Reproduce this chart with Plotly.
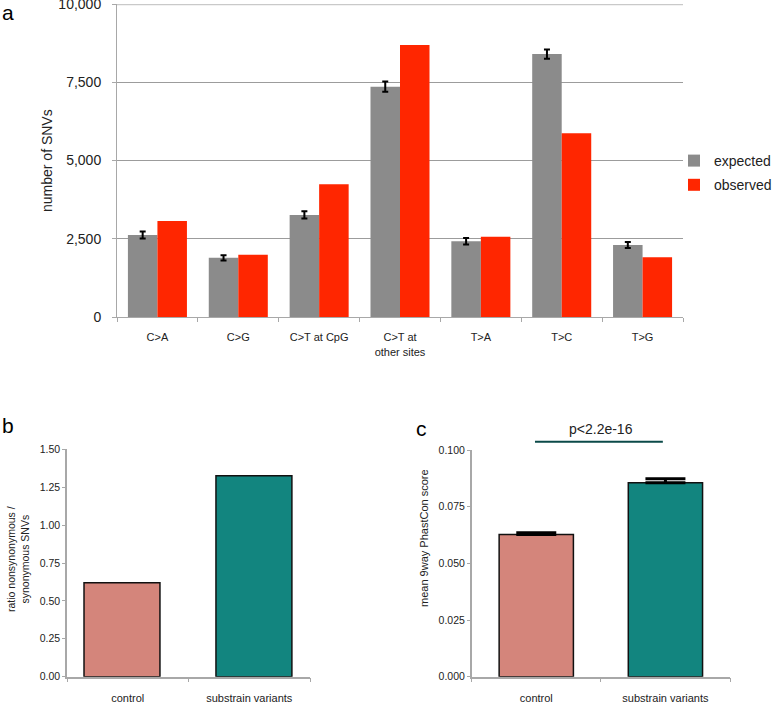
import plotly.graph_objects as go

# ---------------- data ----------------
mut_categories = ["C>A", "C>G", "C>T at CpG", "C>T at<br>other sites", "T>A", "T>C", "T>G"]
expected_snvs = [2620, 1890, 3260, 7360, 2420, 8400, 2300]
expected_err = [110, 85, 115, 160, 100, 150, 95]
observed_snvs = [3070, 1990, 4240, 8690, 2565, 5870, 1910]

group_labels = ["control", "substrain variants"]
ratio_nonsyn_syn = [0.62, 1.325]
phastcon_mean = [0.0627, 0.0855]
phastcon_err = [0.0008, 0.0018]
p_label = "p<2.2e-16"

# ---------------- style ----------------
FONT = "Liberation Sans, Arial, Helvetica, sans-serif"
GRAY = "#8b8b8b"
RED = "#ff2600"
SALMON = "#d4857b"
TEAL = "#12857f"
AXIS = "#a8a8a8"
TXT = "#222222"
W, H = 773, 702


def px_x(p):
    return p / W


def px_y(p):
    return 1 - p / H


fig = go.Figure()

# panel a
fig.add_trace(go.Bar(
    x=mut_categories, y=expected_snvs, name="expected",
    marker=dict(color=GRAY, line=dict(width=0)),
    error_y=dict(type="data", array=expected_err, color="black", thickness=2, width=3),
    xaxis="x", yaxis="y", legendgroup="e"))
fig.add_trace(go.Bar(
    x=mut_categories, y=observed_snvs, name="observed",
    marker=dict(color=RED, line=dict(width=0)),
    xaxis="x", yaxis="y", legendgroup="o"))

# panel b
fig.add_trace(go.Bar(
    x=group_labels, y=ratio_nonsyn_syn, width=0.625, offset=[-0.36, -0.274],
    marker=dict(color=[SALMON, TEAL], line=dict(color="#111111", width=1.5)),
    xaxis="x2", yaxis="y2", showlegend=False))

# panel c
fig.add_trace(go.Bar(
    x=group_labels, y=phastcon_mean, width=0.575,
    marker=dict(color=[SALMON, TEAL], line=dict(color="#111111", width=1.5)),
    error_y=dict(type="data", symmetric=False, array=phastcon_err,
                 arrayminus=[0, 0], color="black", thickness=3, width=20),
    xaxis="x3", yaxis="y3", showlegend=False))

tickfont_a = dict(family=FONT, size=14, color=TXT)
tickfont_s = dict(family=FONT, size=10.5, color=TXT)

fig.update_layout(
    width=W, height=H, autosize=False,
    margin=dict(l=0, r=0, t=0, b=0, autoexpand=False),
    paper_bgcolor="white", plot_bgcolor="white",
    font=dict(family=FONT, color=TXT),
    barmode="group", bargap=0.27, bargroupgap=0,
    showlegend=True,
    legend=dict(x=px_x(674), y=px_y(145), xanchor="left", yanchor="top",
                font=dict(family=FONT, size=14, color=TXT),
                traceorder="grouped", tracegroupgap=3,
                itemwidth=30, bgcolor="rgba(0,0,0,0)"),
    xaxis=dict(domain=[px_x(117), px_x(683)], anchor="y", automargin=False,
               type="category", tickson="boundaries", ticks="outside", ticklen=4,
               tickcolor=AXIS, showline=True, linecolor=AXIS, linewidth=1,
               showgrid=False, tickfont=dict(family=FONT, size=11, color=TXT),
               ticklabelstandoff=10),
    yaxis=dict(domain=[px_y(317), px_y(4)], anchor="x", automargin=False,
               range=[0, 10000], tickvals=[0, 2500, 5000, 7500, 10000],
               ticktext=["0", "2,500", "5,000", "7,500", "10,000"],
               ticks="outside", ticklen=4, tickcolor=AXIS, ticklabeloverflow="allow",
               showline=True, linecolor=AXIS, linewidth=1,
               showgrid=True, gridcolor="#9c9c9c", gridwidth=1, zeroline=False,
               tickfont=tickfont_a, ticklabelstandoff=8),
    xaxis2=dict(domain=[px_x(67), px_x(310)], anchor="y2", automargin=False,
                type="category", tickson="boundaries", ticks="outside", ticklen=4,
                tickcolor=AXIS, showline=True, linecolor=AXIS, linewidth=1.5,
                showgrid=False, tickfont=dict(family=FONT, size=11, color=TXT),
                ticklabelstandoff=10, ticklabeloverflow="allow"),
    yaxis2=dict(domain=[px_y(676.7), px_y(449.3)], anchor="x2", automargin=False,
                range=[0, 1.5], tickvals=[0, 0.25, 0.5, 0.75, 1.0, 1.25, 1.5],
                ticktext=["0.00", "0.25", "0.50", "0.75", "1.00", "1.25", "1.50"],
                ticks="outside", ticklen=3, tickcolor=AXIS,
                showline=True, linecolor=AXIS, linewidth=1.5,
                showgrid=False, zeroline=False, tickfont=tickfont_s),
    xaxis3=dict(domain=[px_x(471.7), px_x(730)], anchor="y3", automargin=False,
                type="category", tickson="boundaries", ticks="outside", ticklen=4,
                tickcolor=AXIS, showline=True, linecolor=AXIS, linewidth=1.5,
                showgrid=False, tickfont=dict(family=FONT, size=11, color=TXT),
                ticklabelstandoff=10, ticklabeloverflow="allow"),
    yaxis3=dict(domain=[px_y(676.7), px_y(450)], anchor="x3", automargin=False,
                range=[0, 0.1], tickvals=[0, 0.025, 0.05, 0.075, 0.1],
                ticktext=["0.000", "0.025", "0.050", "0.075", "0.100"],
                ticks="outside", ticklen=3, tickcolor=AXIS,
                showline=True, linecolor=AXIS, linewidth=1.5,
                showgrid=False, zeroline=False, tickfont=tickfont_s),
)

# top border line in panel a (light, thicker)
fig.add_shape(type="line", xref="x domain", yref="y", x0=0, x1=1, y0=10000, y1=10000,
              line=dict(color="#c9c9c9", width=2.5), layer="above")

# significance bar in panel c
fig.add_shape(type="line", xref="x3", yref="paper", x0=-0.01, x1=0.98,
              y0=px_y(441.7), y1=px_y(441.7), line=dict(color="#0b4a48", width=2))

annotations = [
    dict(text="a", x=0, y=px_y(12), xref="paper", yref="paper", xanchor="left",
         yanchor="middle", showarrow=False, font=dict(family=FONT, size=21, color="black")),
    dict(text="b", x=0, y=px_y(425), xref="paper", yref="paper", xanchor="left",
         yanchor="middle", showarrow=False, font=dict(family=FONT, size=21, color="black")),
    dict(text="c", x=px_x(414), y=px_y(428), xref="paper", yref="paper", xanchor="left",
         yanchor="middle", showarrow=False, font=dict(family=FONT, size=21, color="black")),
    dict(text="number of SNVs", x=px_x(47), y=px_y(161), xref="paper", yref="paper",
         textangle=-90, xanchor="center", yanchor="middle", showarrow=False,
         font=dict(family=FONT, size=14, color=TXT)),
    dict(text="ratio nonsynonymous /<br>synonymous SNVs", x=px_x(18), y=px_y(559),
         xref="paper", yref="paper", textangle=-90, xanchor="center", yanchor="middle",
         showarrow=False, font=dict(family=FONT, size=10.5, color=TXT)),
    dict(text="mean 9way PhastCon score", x=px_x(424), y=px_y(538), xref="paper",
         yref="paper", textangle=-90, xanchor="center", yanchor="middle",
         showarrow=False, font=dict(family=FONT, size=11, color=TXT)),
    dict(text=p_label, x=0.5, y=px_y(429), xref="x3", yref="paper",
         xanchor="center", yanchor="middle", showarrow=False,
         font=dict(family=FONT, size=14, color=TXT)),
]
fig.update_layout(annotations=annotations)

fig.write_html(
    "out.html",
    config={"displayModeBar": False},
    post_script="document.body.style.margin='0';document.body.style.padding='0';"
                "document.documentElement.style.overflow='hidden';",
)
